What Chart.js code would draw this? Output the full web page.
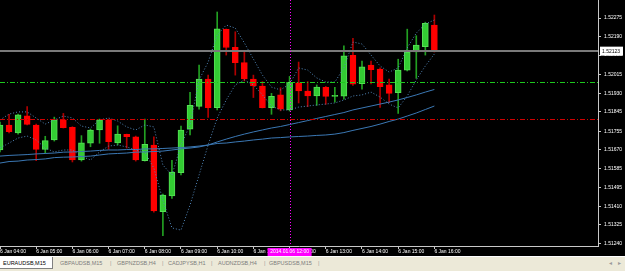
<!DOCTYPE html>
<html>
<head>
<meta charset="utf-8">
<script src="https://cdn.jsdelivr.net/npm/chart.js@4.4.0/dist/chart.umd.min.js"></script>
<style>
  html, body { margin: 0; padding: 0; background: #000; }
  #wrap { position: relative; width: 625px; height: 271px; overflow: hidden; background: #000; }
  #chart { position: absolute; left: 0; top: 0; }
  #tabs { position: absolute; left: 0; top: 256px; width: 625px; height: 15px; background: #ece9d8;
          border-top: 1px solid #fff; font-family: 'Liberation Sans', Arial, sans-serif; font-size: 5.5px; }
  #tabs span { position: absolute; top: 3px; line-height: 7px; white-space: nowrap; color: #7c7c7c; }
  #tabs .active { left: 0; top: 0; width: 52px; height: 11px; background: #fff;
                  border-right: 1px solid #808080; border-bottom: 1px solid #808080; color: #000; }
  #tabs .active b { position: absolute; left: 3px; top: 3px; font-weight: normal; }
  #tabs .sep { color: #9a9a9a; }
</style>
</head>
<body>
<div id="wrap">
  <canvas id="chart" width="625" height="257"></canvas>
  <div id="tabs">
    <span class="active"><b>EURAUDSB,M15</b></span>
    <span style="left:60px">GBPAUDSB,M15</span><span class="sep" style="left:110px">|</span>
    <span style="left:117px">GBPNZDSB,H4</span><span class="sep" style="left:162px">|</span>
    <span style="left:168px">CADJPYSB,H1</span><span class="sep" style="left:211px">|</span>
    <span style="left:218px">AUDNZDSB,H4</span><span class="sep" style="left:264px">|</span>
    <span style="left:269px">GBPUSDSB,M15</span><span class="sep" style="left:318px">|</span>
    <span class="sep" style="left:609px">&#9666;</span><span class="sep" style="left:618px">&#9656;</span>
  </div>
</div>
<script>
// EURAUD M15, 6 Jan 2014
const times = ['04:00','04:15','04:30','04:45','05:00','05:15','05:30','05:45','06:00','06:15','06:30','06:45',
  '07:00','07:15','07:30','07:45','08:00','08:15','08:30','08:45','09:00','09:15','09:30','09:45',
  '10:00','10:15','10:30','10:45','11:00','11:15','11:30','11:45','12:00','12:15','12:30','12:45',
  '13:00','13:15','13:30','13:45','14:00','14:15','14:30','14:45','15:00','15:15','15:30','15:45','16:00'];

const open = [1.51669,1.51784,1.51748,1.51826,1.51784,1.51672,1.51715,1.51807,1.51773,1.51623,1.51700,1.51761,
  1.51807,1.51702,1.51741,1.51730,1.51620,1.51692,1.51386,1.51458,1.51565,1.51765,1.51869,1.51995,
  1.51863,1.52223,1.52141,1.52070,1.51995,1.51963,1.51863,1.51922,1.51853,1.51978,1.51940,1.51917,
  1.51957,1.51915,1.51916,1.52104,1.51974,1.52059,1.52041,1.51968,1.51932,1.52036,1.52120,1.52144,1.52243];
const high = [1.51797,1.51833,1.51834,1.51868,1.51788,1.51732,1.51820,1.51837,1.51776,1.51735,1.51765,1.51811,
  1.51811,1.51780,1.51742,1.51733,1.51811,1.51730,1.51467,1.51621,1.51779,1.51934,1.52059,1.52013,
  1.52303,1.52225,1.52212,1.52125,1.52013,1.51983,1.51929,1.51955,1.52007,1.52073,1.51983,1.51968,
  1.51961,1.51957,1.52147,1.52182,1.52078,1.52078,1.52046,1.51995,1.52086,1.52224,1.52194,1.52256,1.52289];
const low = [1.51660,1.51747,1.51742,1.51784,1.51620,1.51654,1.51710,1.51770,1.51614,1.51618,1.51684,1.51700,
  1.51672,1.51692,1.51678,1.51618,1.51618,1.51383,1.51276,1.51447,1.51554,1.51738,1.51857,1.51819,
  1.51853,1.52105,1.52013,1.51986,1.51910,1.51862,1.51833,1.51849,1.51848,1.51885,1.51868,1.51874,
  1.51879,1.51889,1.51902,1.51966,1.51948,1.51972,1.51864,1.51886,1.51837,1.52032,1.51998,1.52105,1.52119];
const close = [1.51784,1.51753,1.51830,1.51787,1.51672,1.51712,1.51807,1.51771,1.51623,1.51702,1.51761,1.51807,
  1.51707,1.51742,1.51730,1.51623,1.51695,1.51389,1.51462,1.51568,1.51761,1.51874,1.51995,1.51863,
  1.52225,1.52140,1.52070,1.51995,1.51963,1.51863,1.51916,1.51857,1.51980,1.51940,1.51917,1.51958,
  1.51915,1.51915,1.52102,1.51971,1.52051,1.52038,1.51960,1.51929,1.52036,1.52119,1.52151,1.52251,1.52123];

// moving averages (solid)
const maFast = [1.51609,1.51616,1.51618,1.51623,1.51625,1.51628,1.51634,1.51636,1.51637,1.51639,1.51641,1.51646,
  1.51651,1.51653,1.51655,1.51659,1.51660,1.51662,1.51664,1.51669,1.51674,1.51678,1.51683,1.51692,
  1.51706,1.51719,1.51731,1.51742,1.51752,1.51761,1.51770,1.51777,1.51786,1.51795,1.51804,1.51814,
  1.51823,1.51832,1.51841,1.51853,1.51862,1.51871,1.51880,1.51889,1.51899,1.51910,1.51922,1.51935,1.51947];
const maSlow = [1.51641,1.51644,1.51646,1.51648,1.51651,1.51653,1.51655,1.51659,1.51660,1.51662,1.51664,1.51667,
  1.51669,1.51669,1.51671,1.51671,1.51674,1.51674,1.51676,1.51678,1.51680,1.51683,1.51687,1.51692,
  1.51699,1.51701,1.51706,1.51710,1.51715,1.51719,1.51724,1.51726,1.51729,1.51731,1.51733,1.51736,
  1.51738,1.51742,1.51749,1.51759,1.51768,1.51777,1.51788,1.51800,1.51811,1.51825,1.51839,1.51855,1.51871];
// envelope bands (dotted)
const bandUpper = [1.51807,1.51834,1.51844,1.51844,1.51816,1.51788,1.51807,1.51825,1.51816,1.51779,1.51770,1.51807,
  1.51816,1.51802,1.51775,1.51761,1.51784,1.51775,1.51600,1.51554,1.51692,1.51784,1.51991,1.52073,
  1.52197,1.52243,1.52229,1.52161,1.52087,1.52013,1.51958,1.51945,1.51972,1.52046,1.52036,1.52000,
  1.51981,1.51981,1.52046,1.52165,1.52156,1.52105,1.52055,1.52027,1.52046,1.52138,1.52206,1.52248,1.52266];
const bandLower = [1.51678,1.51701,1.51724,1.51733,1.51715,1.51678,1.51660,1.51669,1.51669,1.51641,1.51623,1.51660,
  1.51687,1.51692,1.51683,1.51669,1.51660,1.51586,1.51439,1.51311,1.51301,1.51416,1.51554,1.51692,
  1.51816,1.51899,1.51968,1.51991,1.51968,1.51922,1.51871,1.51853,1.51853,1.51866,1.51871,1.51876,
  1.51880,1.51885,1.51899,1.51917,1.51922,1.51935,1.51912,1.51880,1.51862,1.51917,1.51991,1.52055,1.52110];

const priceTicks = [1.52275,1.52190,1.52105,1.52015,1.51930,1.51845,1.51755,1.51670,1.51585,1.51495,1.51410,1.51325,1.51240];
const bidPrice = 1.52123;
const levelGreen = 1.51980;
const levelRed = 1.51810;
const dayLabel = '6 Jan';
const cursorTime = '12:00';
const cursorText = '2014.01.06 12:00';

const FONT = 'Liberation Sans';
const UP = '#33cc33', DOWN = '#ff0000';
const isUp = i => close[i] >= open[i];

const hourIdx = times.map((t, i) => t.endsWith(':00') ? i : -1).filter(i => i >= 0);

const lineDs = (vals, color, dash) => ({
  type: 'line',
  data: vals.map((v, i) => ({x: i, y: v})),
  borderColor: color,
  borderWidth: 1,
  borderDash: dash,
  pointRadius: 0,
  tension: 0,
  order: 0
});

const overlay = {
  id: 'overlay',
  afterDatasetsDraw(chart) {
    const {ctx, chartArea: a, scales: {x, y}} = chart;
    ctx.save();
    ctx.beginPath();
    ctx.rect(a.left, a.top, a.right - a.left, a.bottom - a.top);
    ctx.clip();
    const hline = (price, color, dash) => {
      const py = Math.round(y.getPixelForValue(price)) + 0.5;
      ctx.strokeStyle = color; ctx.lineWidth = 1; ctx.setLineDash(dash);
      ctx.beginPath(); ctx.moveTo(a.left, py); ctx.lineTo(a.right, py); ctx.stroke();
    };
    hline(levelGreen, '#1ec81e', [5, 2, 1, 2]);
    hline(levelRed, '#d00000', [5, 2, 1, 2]);
    // bid line
    const by = Math.round(y.getPixelForValue(bidPrice));
    ctx.fillStyle = '#7a7a7a';
    ctx.fillRect(a.left, by - 1, a.right - a.left, 2);
    // cursor vertical line
    const cx = Math.round(x.getPixelForValue(times.indexOf(cursorTime))) + 0.5;
    ctx.strokeStyle = '#ff00ff'; ctx.setLineDash([1, 2]);
    ctx.beginPath(); ctx.moveTo(cx, a.top); ctx.lineTo(cx, a.bottom); ctx.stroke();
    ctx.restore();
  },
  afterDraw(chart) {
    const {ctx, chartArea: a, scales: {x, y}} = chart;
    ctx.save();
    ctx.font = '5px "' + FONT + '"';
    ctx.textBaseline = 'middle';
    // bid price box
    const by = y.getPixelForValue(bidPrice);
    ctx.fillStyle = '#fff';
    ctx.fillRect(a.right + 2, by - 4.5, 23, 9);
    ctx.fillStyle = '#000';
    ctx.textAlign = 'left';
    ctx.fillText(bidPrice.toFixed(5), a.right + 4, by);
    // cursor time box
    const cx = x.getPixelForValue(times.indexOf(cursorTime));
    ctx.fillStyle = '#ff00ff';
    ctx.fillRect(cx - 22, a.bottom + 2, 44, 8);
    ctx.fillStyle = '#fff';
    ctx.textAlign = 'center';
    ctx.fillText(cursorText, cx, a.bottom + 6);
    ctx.restore();
  }
};

new Chart(document.getElementById('chart'), {
  type: 'bar',
  data: {
    datasets: [
      lineDs(bandUpper, '#5288bb', [1, 2]),
      lineDs(bandLower, '#5288bb', [1, 2]),
      lineDs(maFast, '#3b78b4', []),
      lineDs(maSlow, '#3b78b4', []),
      {
        data: times.map((t, i) => ({x: i, y: [open[i], close[i]]})),
        backgroundColor: ctx => isUp(ctx.dataIndex) ? UP : DOWN,
        borderColor: ctx => isUp(ctx.dataIndex) ? '#55e055' : DOWN,
        borderWidth: 1,
        borderSkipped: false,
        barThickness: 6,
        minBarLength: 1,
        grouped: false,
        order: 1
      },
      {
        data: times.map((t, i) => ({x: i, y: [low[i], high[i]]})),
        backgroundColor: ctx => isUp(ctx.dataIndex) ? '#22a022' : '#b00000',
        borderWidth: 0,
        barThickness: 1,
        grouped: false,
        order: 2
      }
    ]
  },
  options: {
    responsive: false,
    animation: false,
    events: [],
    layout: { padding: 0, autoPadding: false },
    plugins: { legend: { display: false }, tooltip: { enabled: false } },
    scales: {
      x: {
        type: 'linear',
        offset: false,
        min: 0,
        max: 66.08,
        position: 'bottom',
        afterFit: s => { s.height = 11; s.paddingLeft = 0; s.paddingRight = 0; },
        afterBuildTicks: s => { s.ticks = hourIdx.map(v => ({value: v})); },
        ticks: {
          color: '#fff',
          font: { family: FONT, size: 5 },
          padding: 0,
          align: 'start',
          maxRotation: 0,
          autoSkip: false,
          callback: v => dayLabel + ' ' + times[v]
        },
        grid: { drawOnChartArea: false, offset: false, color: '#c8c8c8', tickLength: 3 },
        border: { color: '#c8c8c8' }
      },
      y: {
        position: 'right',
        min: 1.51228,
        max: 1.52358,
        afterFit: s => { s.width = 27; s.paddingTop = 0; s.paddingBottom = 0; },
        afterBuildTicks: s => { s.ticks = priceTicks.map(v => ({value: v})); },
        ticks: {
          color: '#fff',
          font: { family: FONT, size: 5 },
          padding: 3,
          autoSkip: false,
          callback: v => v.toFixed(5)
        },
        grid: { drawOnChartArea: false, color: '#c8c8c8', tickLength: 3 },
        border: { color: '#c8c8c8' }
      }
    }
  },
  plugins: [overlay]
});
</script>
</body>
</html>
